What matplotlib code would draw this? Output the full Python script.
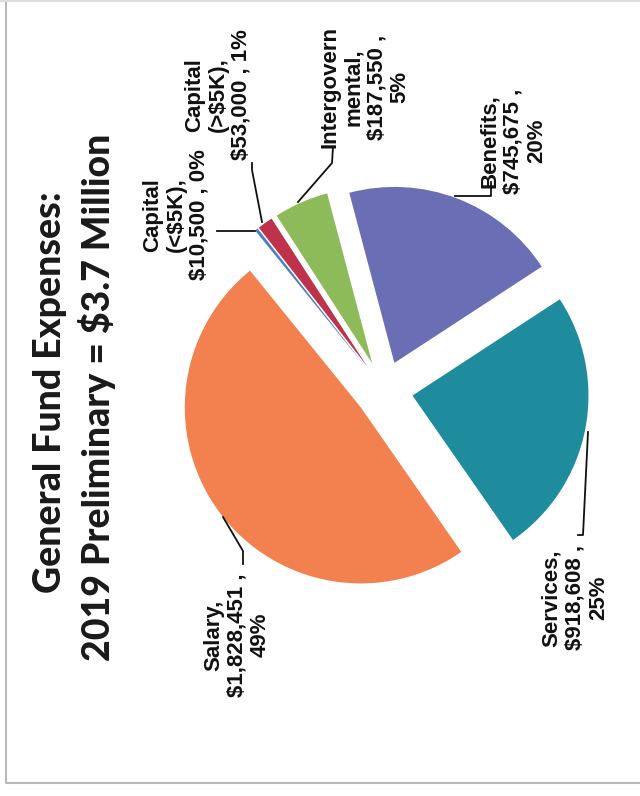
import matplotlib.pyplot as plt

# General fund expense categories (2019 preliminary)
categories = ["Salary", "Services", "Benefits", "Intergovern\nmental",
              "Capital\n(>$5K)", "Capital\n(<$5K)"]
amounts = [1828451, 918608, 745675, 187550, 53000, 10500]
colors = ["#F3804F", "#1F8C9E", "#6A6EB4", "#8DBB5A", "#BE324B", "#4A7CC0"]
pct_same_line = [False, False, False, False, True, True]

title_lines = ["General Fund Expenses:", "2019 Preliminary = $3.7 Million"]

W, H = 640, 796
fig = plt.figure(figsize=(W / 100, H / 100), dpi=100)
ax = fig.add_axes([0, 0, 1, 1])


def sy(y):
    # screen y (from top) -> axes y
    return H - y


# the page is scanned sideways, so everything is turned 90 degrees
center = (384, sy(390))
radius = 176
explode = [29] * len(amounts)
ax.pie(amounts, colors=colors, explode=explode, startangle=129,
       counterclock=True, center=center, radius=radius, frame=True,
       wedgeprops=dict(linewidth=0))
ax.set_xlim(0, W)
ax.set_ylim(0, H)
ax.set_aspect("equal")
ax.axis("off")

total = sum(amounts)
label_pos = [(237, 635), (575, 598), (513, 141), (365, 87), (218, 95), (176, 215)]
for name, val, same, (x, y) in zip(categories, amounts, pct_same_line, label_pos):
    pct = round(val / total * 100)
    sep = " " if same else "\n"
    txt = f"{name},\n${val:,} ,{sep}{pct}%"
    ax.text(x, sy(y), txt, rotation=90, ha="center", va="center",
            multialignment="center", fontsize=16, fontweight="bold",
            family="Liberation Sans", color="#111111", parse_math=False,
            linespacing=1.15)

# leader lines
leaders = [
    [(223, 517), (243, 551), (243, 564)],
    [(588, 432), (583, 535), (578, 535)],
    [(455, 196), (491, 196), (491, 182)],
    [(298, 202), (332, 163), (333, 147)],
    [(262, 222), (252, 170), (252, 163)],
    [(255, 231), (217, 231)],
]
for pts in leaders:
    ax.plot([p[0] for p in pts], [sy(p[1]) for p in pts], color="#111111", lw=1.3)

ax.text(50, sy(392), title_lines[0], rotation=90, ha="center", va="center",
        fontsize=27, fontweight=900, family="Lato", color="#1a1a1a",
        parse_math=False)
ax.text(97, sy(397), title_lines[1], rotation=90, ha="center", va="center",
        fontsize=27, fontweight=900, family="Lato", color="#1a1a1a",
        parse_math=False)

# page frame
ax.plot([6, 6, W], [sy(0), sy(783), sy(783)], color="#b8b8b8", lw=1.5)
ax.plot([0, W], [sy(1), sy(1)], color="#dddddd", lw=1.5)

fig.savefig("out.png", dpi=100)
